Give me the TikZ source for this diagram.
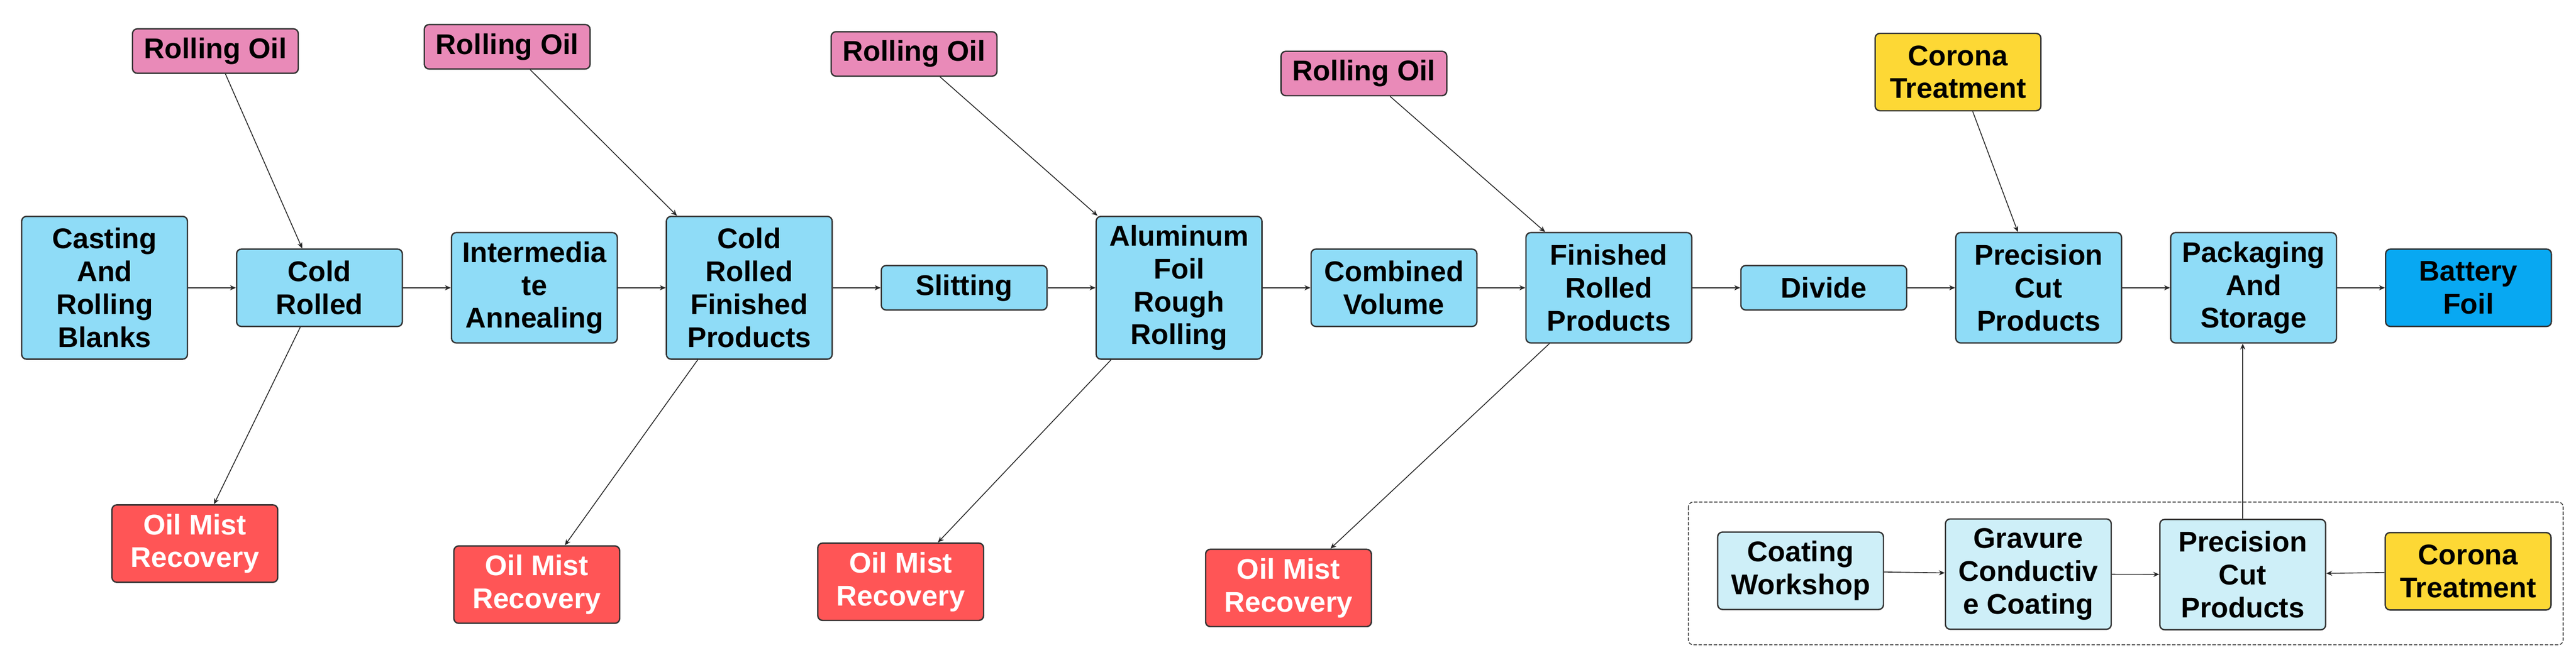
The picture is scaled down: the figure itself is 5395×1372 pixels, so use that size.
\documentclass[tikz,border=0pt]{standalone}
\usepackage{fontspec}
\setmainfont{Liberation Sans}
\definecolor{sky}{RGB}{143,220,247}
\definecolor{pinkoil}{RGB}{233,138,184}
\definecolor{mistred}{RGB}{255,85,86}
\definecolor{coronay}{RGB}{253,216,53}
\definecolor{battery}{RGB}{8,168,242}
\definecolor{coatcyan}{RGB}{206,239,248}
\definecolor{edge}{RGB}{51,51,51}
\usetikzlibrary{arrows.meta,positioning,calc}
\pgfdeclarelayer{bg}
\pgfsetlayers{bg,main}

\begin{document}
\begin{tikzpicture}[x=0.01cm,y=0.01cm,
    stage/.style={draw=edge, line width=0.8pt, rounded corners=0.1cm, fill=sky, minimum width=3.47cm,
      inner xsep=2pt, inner ysep=2pt, align=center, font=\fontsize{17pt}{19.6pt}\selectfont\bfseries},
    l1/.style={minimum height=0.93cm},
    l2/.style={minimum height=1.62cm},
    l3/.style={minimum height=2.31cm},
    l4/.style={minimum height=2.99cm},
    oil/.style={stage, l1, fill=pinkoil},
    mist/.style={stage, l2, fill=mistred, text=white},
    corona/.style={stage, l2, fill=coronay},
    flow/.style={-{Stealth[length=3.5pt,width=3pt]}, line width=0.5pt, draw=black!85}
    ]
      \useasboundingbox (0,0) rectangle (5395,-1372);

      % main line
      \node[stage, l4] at (219,-603) (cast) {Casting\\And\\Rolling\\Blanks};
      \node[stage, l2, right=1cm of cast] (cold) {Cold\\Rolled};
      \node[stage, l3, right=1cm of cold] (anneal) {Intermedia\\te\\Annealing};
      \node[stage, l4, right=1cm of anneal] (crfp) {Cold\\Rolled\\Finished\\Products};
      \node[stage, l1, right=1cm of crfp] (slit) {Slitting};
      \node[stage, l4, right=1cm of slit] (rough) {Aluminum\\Foil\\Rough\\Rolling};
      \node[stage, l2, right=1cm of rough] (volume) {Combined\\Volume};
      \node[stage, l3, right=1cm of volume] (frp) {Finished\\Rolled\\Products};
      \node[stage, l1, right=1cm of frp] (divide) {Divide};
      \node[stage, l3, right=1cm of divide] (pcp) {Precision\\Cut\\Products};
      \node[stage, l3, right=1cm of pcp] (pack) {Packaging\\And\\Storage};
      \node[stage, l2, fill=battery, right=1cm of pack] (foil) {Battery\\Foil};

      % inputs and recovery
      \node[oil] at ($(cold)+(-218,496)$) (oil1) {Rolling Oil};
      \node[oil] at ($(crfp)+(-507,505)$) (oil2) {Rolling Oil};
      \node[oil] at ($(rough)+(-555,490)$) (oil3) {Rolling Oil};
      \node[oil] at ($(frp)+(-513,449)$) (oil4) {Rolling Oil};
      \node[corona] at ($(pcp)+(-169,452)$) (cor1) {Corona\\Treatment};
      \node[mist] at ($(cold)+(-261,-536)$) (mist1) {Oil Mist\\Recovery};
      \node[mist] at ($(crfp)+(-445,-622)$) (mist2) {Oil Mist\\Recovery};
      \node[mist] at ($(rough)+(-583,-616)$) (mist3) {Oil Mist\\Recovery};
      \node[mist] at ($(frp)+(-671,-629)$) (mist4) {Oil Mist\\Recovery};

      % coating line
      \node[stage, l2, fill=coatcyan] at (3771,-1196) (coat) {Coating\\Workshop};
      \node[stage, l3, fill=coatcyan] at (4248,-1203) (gravure) {Gravure\\Conductiv\\e Coating};
      \node[stage, l3, fill=coatcyan] at (4697,-1204) (pcp2) {Precision\\Cut\\Products};
      \node[corona] at (5169,-1197) (cor2) {Corona\\Treatment};

      \begin{pgfonlayer}{bg}
	  \draw[edge, line width=0.5pt, dash pattern=on 2pt off 1pt, rounded corners=0.1cm] (3536,-1052) rectangle (5368,-1351);
      \end{pgfonlayer}

      \draw[flow] (cast) -- (cold);
      \draw[flow] (cold) -- (anneal);
      \draw[flow] (anneal) -- (crfp);
      \draw[flow] (crfp) -- (slit);
      \draw[flow] (slit) -- (rough);
      \draw[flow] (rough) -- (volume);
      \draw[flow] (volume) -- (frp);
      \draw[flow] (frp) -- (divide);
      \draw[flow] (divide) -- (pcp);
      \draw[flow] (pcp) -- (pack);
      \draw[flow] (pack) -- (foil);

      \draw[flow] (oil1) -- (cold);
      \draw[flow] (oil2) -- (crfp);
      \draw[flow] (oil3) -- (rough);
      \draw[flow] (oil4) -- (frp);
      \draw[flow] (cor1) -- (pcp);
      \draw[flow] (cold) -- (mist1);
      \draw[flow] (crfp) -- (mist2);
      \draw[flow] (rough) -- (mist3);
      \draw[flow] (frp) -- (mist4);

      \draw[flow] (coat) -- (gravure);
      \draw[flow] (gravure) -- (pcp2);
      \draw[flow] (cor2) -- (pcp2);
      \draw[flow] (pcp2.north) -- (pcp2.north |- pack.south);
    \end{tikzpicture}
\end{document}
